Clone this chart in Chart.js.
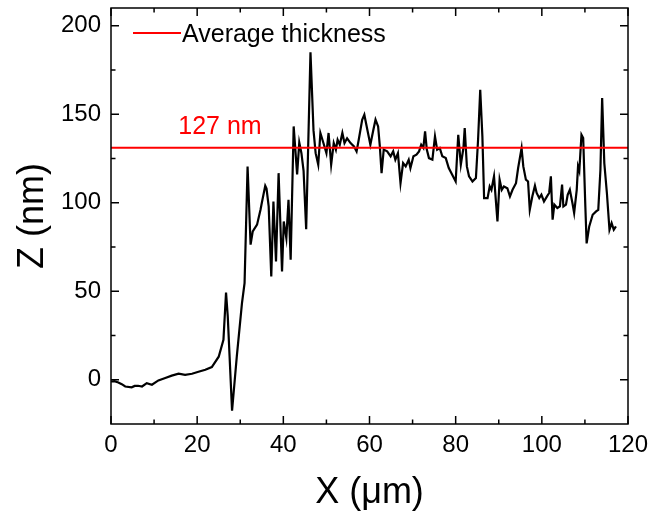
<!DOCTYPE html>
<html>
<head>
<meta charset="utf-8">
<script src="https://cdn.jsdelivr.net/npm/chart.js@4.4.0/dist/chart.umd.min.js"></script>
<style>
  html, body { margin: 0; padding: 0; background: #fff; }
</style>
</head>
<body>
<canvas id="myChart" width="651" height="519"></canvas>
<script>
// profile: X in um, Z in nm
var xValues = [0, 0.8, 1.7, 2.5, 3.3, 4.8, 5.5, 6.3, 7.2, 8.3, 9.5, 11, 12.6, 14.1, 15.7, 17.2, 18.8, 20.3, 21.9, 23.4,
    25, 26.1, 26.7, 27.1, 28.1, 29.2, 30.4, 31, 31.7, 32.4, 32.9, 33.9, 34.7, 35, 35.8, 36.1, 36.6, 37.2, 37.7, 38.3,
    38.9, 39.7, 40.1, 40.7, 41.2, 41.7, 42.4, 43.2, 43.7, 44.2, 44.7, 45.3, 46.3, 47, 47.5, 48.1, 48.6, 49.2, 50, 50.5,
    51.1, 51.7, 52.2, 52.6, 53.1, 53.7, 54.2, 54.8, 55.6, 56.4, 57, 57.5, 58.3, 58.8, 59.5, 60.2, 60.9, 61.4, 62, 62.4,
    62.8, 63.3, 64.1, 64.9, 65.5, 66, 66.6, 67.2, 67.8, 68.4, 69.1, 69.5, 70.2, 70.9, 71.5, 72, 72.5, 72.9, 73.3, 73.8,
    74.6, 75.2, 75.7, 76.3, 76.9, 77.7, 78.4, 79.2, 80, 80.6, 81.2, 81.8, 82.1, 82.6, 83.1, 83.9, 84.7, 85.2, 85.7, 86.2,
    86.6, 87.4, 87.9, 88.3, 88.9, 89.7, 90.2, 90.7, 91.2, 92, 92.6, 93.2, 94, 94.5, 95.3, 95.7, 96.3, 96.8, 97.2, 97.8,
    98.4, 98.8, 99.4, 99.9, 100.5, 101.2, 101.7, 102.1, 102.5, 102.9, 103.6, 104.2, 104.7, 105, 105.6, 106, 106.5, 107.1, 107.5, 108.1,
    108.4, 108.7, 109.2, 109.6, 110.1, 110.4, 111, 111.8, 112.6, 113.1, 113.6, 114, 114.5, 115.1, 115.7, 116.2, 116.7, 117.2];
var zValues = [-1, -0.8, -1.5, -2.5, -3.8, -4.3, -3.5, -3.4, -3.8, -1.9, -2.8, -0.4, 1, 2.3, 3.4, 2.8, 3.4, 4.5, 5.6, 7.2,
    13, 22.6, 49.3, 35.8, -17.5, 13.2, 43.3, 54.6, 120.5, 76.3, 83.8, 87.6, 96, 99.8, 109.6, 108, 97.9, 58.4, 100.7, 66.8,
    116.7, 61.2, 89.4, 80, 101.7, 67.8, 143.1, 116, 134, 128, 118, 85, 185, 141, 128, 121.5, 139.4, 134.6, 128, 139.4,
    121.5, 133.7, 130, 135.6, 132.8, 139.4, 133.7, 136.4, 133.7, 131.8, 129, 135.6, 146.9, 149.7, 141.2, 132.8, 141.2, 146.9, 143.1, 131.8,
    116.7, 130, 129, 126.2, 129, 124.3, 128, 111, 122.4, 120.5, 124.3, 119.6, 126.2, 127.1, 129, 132.8, 131, 140.3, 130, 125.2,
    124.3, 137.5, 130, 130.9, 126.2, 125.2, 119.6, 115.8, 112, 138.4, 121.5, 130.9, 142.2, 120.5, 114.9, 112, 113.9, 135.6, 163.8, 137.5,
    102.6, 102.6, 109.2, 107.3, 114.9, 89.4, 113, 107.3, 109.2, 108.2, 103.6, 107.3, 111, 119.6, 130.9, 120.5, 113, 112, 96, 103.6,
    109.6, 105.5, 102.6, 104.5, 100.7, 103.6, 105.5, 114.9, 90.4, 98.9, 97, 98, 110.2, 97.9, 98.9, 104.5, 107.3, 99.8, 94.2, 107.3,
    120.5, 118, 138.4, 136.5, 97.9, 77, 86.6, 93.2, 95.1, 96, 118.6, 159.1, 122.4, 105.5, 84.7, 88.5, 84.7, 86.6];

var avgValue = 131;
var avgLabel = "127 nm";
var legendText = "Average thickness";

var xTicks = [0, 20, 40, 60, 80, 100, 120];
var xMinor = [10, 30, 50, 70, 90, 110];
var zTicks = [0, 50, 100, 150, 200];
var zMinor = [25, 75, 125, 175];

var fontFamily = "'Liberation Sans', Arial, sans-serif";

var profile = xValues.map(function (x, i) { return { x: x, y: zValues[i] }; });
var avgLine = [{ x: xTicks[0], y: avgValue }, { x: xTicks[xTicks.length - 1], y: avgValue }];

// box, inward ticks, legend and the red label
var extras = {
    id: 'extras',
    afterDraw: function (chart) {
        var ctx = chart.ctx, a = chart.chartArea;
        var xs = chart.scales.x, ys = chart.scales.y;
        ctx.save();
        ctx.strokeStyle = '#000';
        ctx.lineWidth = 1.5;
        ctx.strokeRect(a.left, a.top, a.right - a.left, a.bottom - a.top);

        function xTick(v, len) {
            var px = xs.getPixelForValue(v);
            ctx.beginPath();
            ctx.moveTo(px, a.bottom); ctx.lineTo(px, a.bottom - len);
            ctx.moveTo(px, a.top); ctx.lineTo(px, a.top + len);
            ctx.stroke();
        }
        function zTick(v, len) {
            var py = ys.getPixelForValue(v);
            ctx.beginPath();
            ctx.moveTo(a.left, py); ctx.lineTo(a.left + len, py);
            ctx.moveTo(a.right, py); ctx.lineTo(a.right - len, py);
            ctx.stroke();
        }
        xTicks.forEach(function (v) { xTick(v, 8); });
        xMinor.forEach(function (v) { xTick(v, 4.5); });
        zTicks.forEach(function (v) { zTick(v, 8); });
        zMinor.forEach(function (v) { zTick(v, 4.5); });

        // legend
        var ly = a.top + 25;
        ctx.strokeStyle = 'red';
        ctx.lineWidth = 2;
        ctx.beginPath();
        ctx.moveTo(a.left + 22, ly); ctx.lineTo(a.left + 70, ly);
        ctx.stroke();
        ctx.fillStyle = '#000';
        ctx.font = '25px ' + fontFamily;
        ctx.textAlign = 'left';
        ctx.textBaseline = 'alphabetic';
        ctx.fillText(legendText, a.left + 71, a.top + 34);

        // value label over the average line
        ctx.fillStyle = 'red';
        ctx.textAlign = 'center';
        ctx.fillText(avgLabel, xs.getPixelForValue(25.3), ys.getPixelForValue(avgValue) - 14);
        ctx.restore();
    }
};

function noPad(s) {
    s.paddingTop = 0; s.paddingBottom = 0; s.paddingLeft = 0; s.paddingRight = 0;
}

new Chart("myChart", {
    type: "scatter",
    data: {
        datasets: [{
            data: avgLine,
            showLine: true,
            borderColor: 'red',
            borderWidth: 2,
            pointRadius: 0
        }, {
            data: profile,
            showLine: true,
            borderColor: '#000',
            borderWidth: 2.2,
            pointRadius: 0,
            tension: 0
        }]
    },
    options: {
        responsive: false,
        animation: false,
        devicePixelRatio: 1,
        layout: { padding: { top: 8, right: 23, left: 0, bottom: 0 } },
        plugins: {
            legend: { display: false },
            tooltip: { enabled: false }
        },
        scales: {
            x: {
                type: 'linear',
                min: 0,
                max: 120,
                afterFit: function (s) { s.height = 95; noPad(s); },
                afterBuildTicks: function (s) { s.ticks = xTicks.map(function (v) { return { value: v }; }); },
                grid: { display: false, drawTicks: false },
                border: { display: false },
                ticks: { color: '#000', padding: 7, maxRotation: 0, font: { family: fontFamily, size: 24 } },
                title: {
                    display: true,
                    text: 'X (\u03bcm)',
                    color: '#000',
                    padding: { top: 0, bottom: 4 },
                    font: { family: fontFamily, size: 36 }
                }
            },
            y: {
                type: 'linear',
                min: -25,
                max: 210,
                afterFit: function (s) { s.width = 111; noPad(s); },
                afterBuildTicks: function (s) { s.ticks = zTicks.map(function (v) { return { value: v }; }); },
                grid: { display: false, drawTicks: false },
                border: { display: false },
                ticks: { color: '#000', padding: 10, font: { family: fontFamily, size: 24 } },
                title: {
                    display: true,
                    text: 'Z (nm)',
                    color: '#000',
                    padding: { top: 11, bottom: 0 },
                    font: { family: fontFamily, size: 36 }
                }
            }
        }
    },
    plugins: [extras]
});
</script>
</body>
</html>
